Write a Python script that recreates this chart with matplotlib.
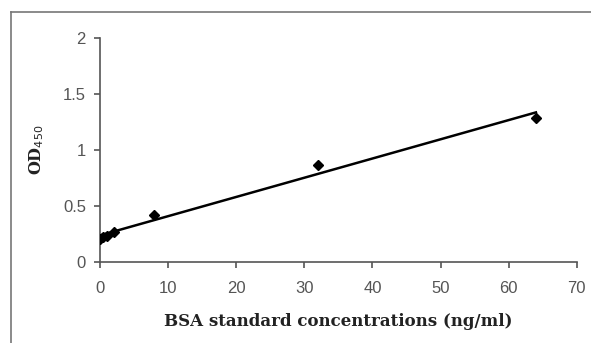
import numpy as np
import matplotlib
matplotlib.use("Agg")
import matplotlib.pyplot as plt
from matplotlib.lines import Line2D

# BSA standards (ng/ml) and measured OD450
conc = [0, 0.5, 1, 2, 8, 32, 64]
od450 = [0.21, 0.22, 0.23, 0.27, 0.42, 0.87, 1.29]
x_ticks = [0, 10, 20, 30, 40, 50, 60, 70]
y_ticks = [0, 0.5, 1, 1.5, 2]
y_tick_labels = ["0", "0.5", "1", "1.5", "2"]

fig = plt.figure(figsize=(5.91, 3.43), dpi=100)
ax = fig.add_axes([0.169, 0.236, 0.807, 0.653])

# linear trend line
slope, intercept = np.polyfit(conc, od450, 1)
xs = np.array([min(conc), max(conc)])
ax.plot(xs, slope * xs + intercept, color="black", lw=1.8, zorder=2)
ax.plot(conc, od450, "D", color="black", ms=5.5, zorder=3)

ax.set_xlim(0, 70)
ax.set_ylim(0, 2)
ax.set_xticks(x_ticks)
ax.set_yticks(y_ticks)
ax.set_yticklabels(y_tick_labels)

for s in ["top", "right"]:
    ax.spines[s].set_visible(False)
for s in ["left", "bottom"]:
    ax.spines[s].set_color("#555555")
    ax.spines[s].set_linewidth(1.2)
ax.tick_params(direction="out", length=4, width=1.2, color="#555555",
               labelcolor="#555555", labelsize=12)
for lab in ax.get_xticklabels() + ax.get_yticklabels():
    lab.set_family("Liberation Sans")
ax.tick_params(axis="x", pad=10)
ax.tick_params(axis="y", pad=6)

ax.set_xlabel("BSA standard concentrations (ng/ml)", family="DejaVu Serif",
              fontweight="bold", fontsize=12, labelpad=12, color="#222222")
ax.set_ylabel(r"OD$_{\mathit{450}}$", family="DejaVu Serif",
              fontweight="bold", fontsize=11.5, labelpad=12, color="#222222")

# partial picture frame (left and top only)
fig.add_artist(Line2D([11 / 591, 11 / 591], [0, 1 - 12 / 343],
                      transform=fig.transFigure, color="#777777", lw=1.2))
fig.add_artist(Line2D([11 / 591, 1], [1 - 12 / 343, 1 - 12 / 343],
                      transform=fig.transFigure, color="#777777", lw=1.2))

fig.savefig("out.png", dpi=100)
